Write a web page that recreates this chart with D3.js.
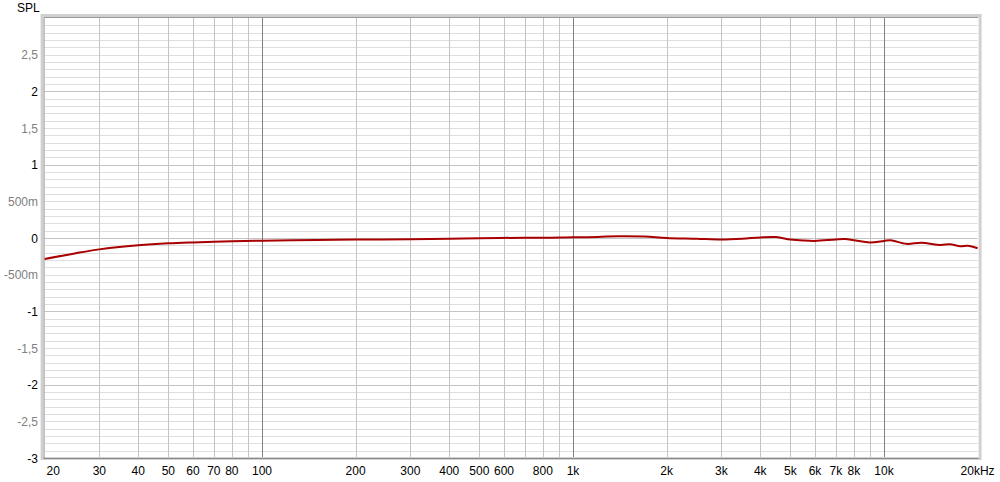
<!DOCTYPE html>
<meta charset="utf-8">
<script src="https://d3js.org/d3.v7.min.js"></script>
<style>
  body { margin: 0; background: #fff; }
  text { font-family: "Liberation Sans", Arial, sans-serif; font-size: 12px; }
</style>
<div id="chart"></div>
<script>

// frequency response (Hz / dB-ish units)
var freqs = [20, 25, 30, 40, 50, 60, 80, 100, 150, 200, 300, 400, 500, 700, 800,
  1000, 1200, 1400, 1700, 2000, 2500, 3000, 3500, 4000, 4500, 5000, 5500, 6000,
  7000, 7500, 8000, 9000, 10000, 10500, 11800, 13200, 15200, 16300, 17600, 18600, 20000];
var spl = [-0.286, -0.21, -0.155, -0.10, -0.073, -0.06, -0.045, -0.036, -0.028, -0.022,
  -0.018, -0.01, -0.005, 0.005, 0.003, 0.01, 0.015, 0.025, 0.02, 0.0, -0.01, -0.02,
  -0.01, 0.008, 0.012, -0.02, -0.035, -0.04, -0.02, -0.015, -0.03, -0.06, -0.04,
  -0.03, -0.08, -0.064, -0.095, -0.086, -0.113, -0.105, -0.14];

var xTicks = [20, 30, 40, 50, 60, 70, 80, 100, 200, 300, 400, 500, 600, 800,
  1000, 2000, 3000, 4000, 5000, 6000, 7000, 8000, 10000, 20000];
var xTickLabels = ["20", "30", "40", "50", "60", "70", "80", "100", "200", "300", "400",
  "500", "600", "800", "1k", "2k", "3k", "4k", "5k", "6k", "7k", "8k", "10k", "20kHz"];
var yTicks = [2.5, 2, 1.5, 1, 0.5, 0, -0.5, -1, -1.5, -2, -2.5, -3];
var yTickLabels = ["2,5", "2", "1,5", "1", "500m", "0", "-500m", "-1", "-1,5", "-2", "-2,5", "-3"];

var W = 1000, H = 482;
// plot box (window.top is reserved, so use a margin object)
var box = {left: 44.6, right: 977.6, top: 18, bottom: 458};

var svg = d3.select("#chart").append("svg")
    .attr("width", W)
    .attr("height", H);

var x = d3.scaleLog().domain([20, 20000]).range([box.left, box.right]);
var y = d3.scaleLinear().domain([-3, 3]).range([box.bottom, box.top]);

// horizontal grid, every 0.1
var hLines = d3.range(-29, 30).map(function(d) { return d / 10; });
svg.append("g").selectAll("line")
    .data(hLines)
    .enter().append("line")
    .attr("x1", box.left).attr("x2", box.right)
    .attr("y1", function(d) { return Math.round(y(d)) + 0.5; })
    .attr("y2", function(d) { return Math.round(y(d)) + 0.5; })
    .style("stroke", function(d) { return Math.abs(d - Math.round(d)) < 1e-6 ? "#c4c4c4" : "#dedede"; })
    .style("stroke-width", 1);

// vertical grid: every 1..9 per decade
var vLines = [];
[10, 100, 1000, 10000].forEach(function(dec) {
  for (var k = 1; k < 10; k++) {
    var f = dec * k;
    if (f > 20 && f < 20000) vLines.push(f);
  }
});
svg.append("g").selectAll("line")
    .data(vLines)
    .enter().append("line")
    .attr("y1", box.top).attr("y2", box.bottom)
    .attr("x1", function(d) { return Math.round(x(d)) + 0.5; })
    .attr("x2", function(d) { return Math.round(x(d)) + 0.5; })
    .style("stroke", function(d) { return [100, 1000, 10000].indexOf(d) >= 0 ? "#808080" : "#c4c4c4"; })
    .style("stroke-width", 1);

// frame (sunken panel look)
svg.append("rect")
    .attr("x", box.left - 2.5).attr("y", box.top - 2.5)
    .attr("width", box.right - box.left + 5).attr("height", box.bottom - box.top + 3)
    .style("fill", "none").style("stroke", "#d0d0d0").style("stroke-width", 3);
svg.append("path")
    .attr("d", "M" + (box.left - 0.5) + "," + box.bottom + "V" + (box.top - 0.5) + "H" + (box.right + 0.5))
    .style("fill", "none").style("stroke", "#9a9a9a").style("stroke-width", 1);
svg.append("line")
    .attr("x1", box.left - 1).attr("x2", box.right + 1)
    .attr("y1", box.bottom + 0.5).attr("y2", box.bottom + 0.5)
    .style("stroke", "#8c8c8c").style("stroke-width", 1);

// the curve
var line = d3.line()
    .x(function(d, i) { return x(freqs[i]); })
    .y(function(d) { return y(d); })
    .curve(d3.curveCatmullRom.alpha(0.5));
svg.append("path")
    .datum(spl)
    .attr("d", line)
    .style("fill", "none")
    .style("stroke", "#a80000")
    .style("stroke-width", 2);

// x labels
svg.append("g").selectAll("text")
    .data(xTicks)
    .enter().append("text")
    .attr("x", function(d, i) { return i === 0 ? x(d) + 2 : x(d); })
    .attr("y", 475)
    .attr("text-anchor", function(d, i) { return i === 0 ? "start" : "middle"; })
    .style("fill", "#000")
    .text(function(d, i) { return xTickLabels[i]; });

// y labels (integers black, halves gray)
svg.append("g").selectAll("text")
    .data(yTicks)
    .enter().append("text")
    .attr("x", 38)
    .attr("y", function(d) { return y(d) + 4.5; })
    .attr("text-anchor", "end")
    .style("fill", function(d) { return d % 1 === 0 ? "#000" : "#808080"; })
    .text(function(d, i) { return yTickLabels[i]; });

svg.append("text")
    .attr("x", 17).attr("y", 12)
    .text("SPL");

</script>
